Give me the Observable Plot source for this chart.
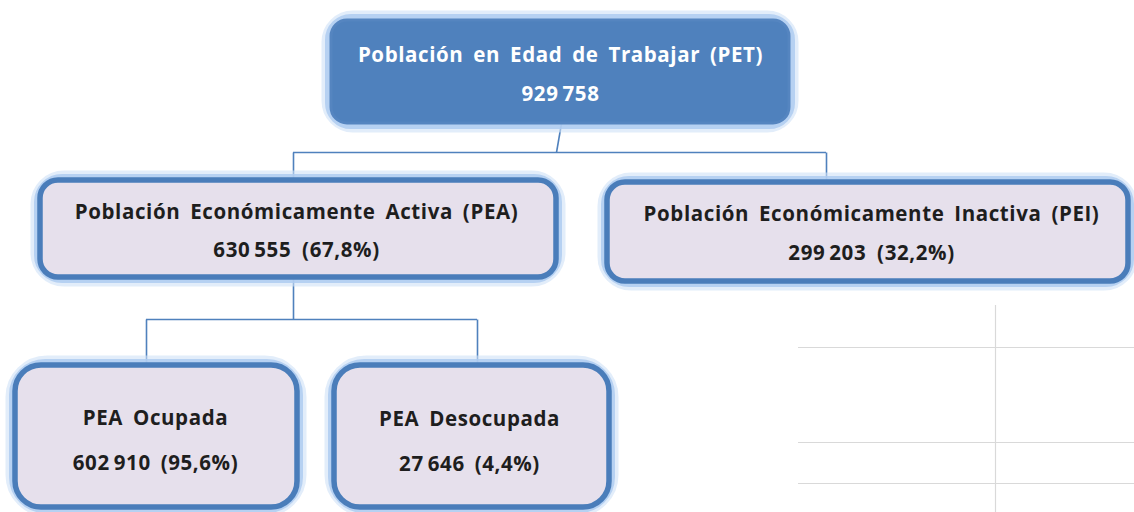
<!DOCTYPE html>
<html>
<head>
<meta charset="utf-8">
<script src="https://cdn.jsdelivr.net/npm/d3@7"></script>
<script src="https://cdn.jsdelivr.net/npm/@observablehq/plot@0.6"></script>
<style>
  html, body { margin: 0; padding: 0; background: #ffffff; overflow: hidden; }
  #chart { width: 1134px; height: 512px; }
  .org text { letter-spacing: 0.6px; word-spacing: 4px; }
  .org text.num { word-spacing: 2px; }
</style>
</head>
<body>
<div id="chart"></div>
<script>
// ---- data ----
const nodeIds    = ["PET", "PEA", "PEI", "OCU", "DES"];
const nodeNames  = [
  "Población en Edad de Trabajar (PET)",
  "Población Económicamente Activa (PEA)",
  "Población Económicamente Inactiva (PEI)",
  "PEA Ocupada",
  "PEA Desocupada"
];
const nodeValues = [929758, 630555, 299203, 602910, 27646];
const nodeShares = ["", "67,8%", "32,2%", "95,6%", "4,4%"];
const nodeParents = [null, "PET", "PET", "PEA", "PEA"];

// ---- layout (diagram geometry, kept apart from the data) ----
const layout = {
  PET: {x1: 331, x2: 789, y1: 20,  y2: 123, rx: 16, dark: true,  t1: 55,  t2: 94,  cx: 560, join: 152},
  PEA: {x1: 40,  x2: 556, y1: 180, y2: 277, rx: 18, dark: false, t1: 212, t2: 250, cx: 296, join: 319},
  PEI: {x1: 607, x2: 1128, y1: 182, y2: 281, rx: 18, dark: false, t1: 214, t2: 253, cx: 871},
  OCU: {x1: 15,  x2: 297, y1: 365, y2: 507, rx: 26, dark: false, t1: 418, t2: 463, cx: 155},
  DES: {x1: 334, x2: 609, y1: 365, y2: 507, rx: 26, dark: false, t1: 419, t2: 464, cx: 469}
};
const connectorX = {PET: 560, PEA: 293, PEI: 826, OCU: 146, DES: 477};

const grid = {vx: 995, vy1: 305, hy: [347, 442, 483], hx1: 798, hx2: 1134};

// ---- build tables ----
const fmt = v => d3.format(",")(v).replace(/,/g, "\u2009");
const nodes = nodeIds.map((id, i) => ({
  id,
  name: nodeNames[i],
  line2: i === 0 ? fmt(nodeValues[i])
        : (i < 3 ? `${fmt(nodeValues[i])}\u2002(${nodeShares[i]})` : `${fmt(nodeValues[i])} (${nodeShares[i]})`),
  parent: nodeParents[i],
  ...layout[id]
}));

// connectors: parent bottom -> join line -> child top
const links = [];
const joins = [];
for (const p of nodes) {
  const kids = nodes.filter(n => n.parent === p.id);
  if (!kids.length) continue;
  const xs = kids.map(k => connectorX[k.id]);
  joins.push({x1: d3.min(xs), x2: d3.max(xs), y: p.join});
  links.push({x1: connectorX[p.id] + (p.id === "PET" ? 1 : 0), y1: p.y2, x2: connectorX[p.id] - (p.id === "PET" ? 4 : 0), y2: p.join});
  for (const k of kids) links.push({x1: connectorX[k.id], y1: p.join, x2: connectorX[k.id], y2: k.y1});
}

const gridLines = grid.hy.map(y => ({x1: grid.hx1, x2: grid.hx2, y}));

const boxStroke = "#4a7dba";
const boxMarks = nodes.flatMap(n => [
  Plot.rect([n], {x1: "x1", x2: "x2", y1: "y1", y2: "y2", rx: n.rx + 6, fill: "none", stroke: "#cfe1f7", strokeWidth: 19, strokeOpacity: 0.6}),
  Plot.rect([n], {x1: "x1", x2: "x2", y1: "y1", y2: "y2", rx: n.rx + 4, fill: "none", stroke: "#aecbf0", strokeWidth: 12, strokeOpacity: 0.85}),
  Plot.rect([n], {x1: "x1", x2: "x2", y1: "y1", y2: "y2", rx: n.rx,
    fill: n.dark ? "#4f81bd" : "#e6e0ec",
    stroke: n.dark ? "#5585c0" : boxStroke,
    strokeWidth: n.dark ? 3 : 5.5})
]);

const chart = Plot.plot({
  width: 1134,
  height: 512,
  margin: 0,
  className: "org",
  x: {domain: [0, 1134], axis: null},
  y: {domain: [0, 512], reverse: true, axis: null},
  style: {fontFamily: "'Open Sans', Lato, sans-serif", background: "#ffffff"},
  marks: [
    // faint table grid at lower right
    Plot.ruleY(gridLines, {x1: "x1", x2: "x2", y: "y", stroke: "#d9d9d9", strokeWidth: 1.2}),
    Plot.ruleX([grid.vx], {y1: grid.vy1, y2: 512, stroke: "#d9d9d9", strokeWidth: 1.2}),
    // connectors
    Plot.link(links, {x1: "x1", y1: "y1", x2: "x2", y2: "y2", stroke: "#4f81bd", strokeWidth: 1.6}),
    Plot.ruleY(joins, {x1: "x1", x2: "x2", y: "y", stroke: "#4f81bd", strokeWidth: 1.6}),
    ...boxMarks,
    // labels
    Plot.text(nodes, {x: "cx", y: "t1", text: "name", fill: d => d.dark ? "#ffffff" : "#1e1e1e", fontSize: 20.5, fontWeight: 700}),
    Plot.text(nodes, {x: "cx", y: "t2", text: "line2", fill: d => d.dark ? "#ffffff" : "#1e1e1e", fontSize: 20.5, fontWeight: 700, className: "num"})
  ]
});
document.getElementById("chart").appendChild(chart);
</script>
</body>
</html>
